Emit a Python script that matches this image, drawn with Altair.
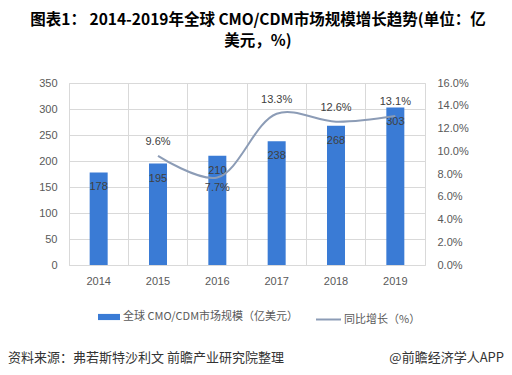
import altair as alt
import pandas as pd

years = ["2014", "2015", "2016", "2017", "2018", "2019"]
market = [178, 195, 210, 238, 268, 303]
growth = [None, 9.6, 7.7, 13.3, 12.6, 13.1]
growth_labels = ["", "9.6%", "7.7%", "13.3%", "12.6%", "13.1%"]
label_below = [False, False, True, False, False, False]
bar_series = "全球 CMO/CDM市场规模（亿美元）"
line_series = "同比增长（%）"
left_ticks = [0, 50, 100, 150, 200, 250, 300, 350]
right_ticks = [0, 2, 4, 6, 8, 10, 12, 14, 16]
title_lines = ["图表1： 2014-2019年全球 CMO/CDM市场规模增长趋势(单位：亿", "美元，%)"]
source_text = "资料来源：弗若斯特沙利文 前瞻产业研究院整理"
brand_text = "@前瞻经济学人APP"

df = pd.DataFrame({
    "year": years,
    "market": market,
    "growth": growth,
    "glabel": growth_labels,
    "below": label_below,
    "bar_series": [bar_series] * len(years),
    "line_series": [line_series] * len(years),
})

NUM = "Liberation Sans"
CJK = "Noto Sans CJK SC"
BAR = "#3a7bd5"
LINE = "#8c9cb6"
GRID = "#d9d9d9"
LBL = "#595959"

x = alt.X("year:N", title=None,
          scale=alt.Scale(paddingInner=0, paddingOuter=0),
          axis=alt.Axis(labelAngle=0, ticks=False, domain=False, grid=True,
                        bandPosition=0, gridColor=GRID, labelColor=LBL,
                        labelFont=NUM, labelFontSize=11, labelPadding=10))

y_left = alt.Y("market:Q", title=None,
               scale=alt.Scale(domain=[0, 350], nice=False),
               axis=alt.Axis(values=left_ticks, ticks=False, domain=False, grid=True,
                             gridColor=GRID, labelColor=LBL, labelFont=NUM,
                             labelFontSize=11, labelPadding=12))

y_right = alt.Y("growth:Q", title=None,
                scale=alt.Scale(domain=[0, 16], nice=False),
                axis=alt.Axis(orient="right", values=right_ticks, ticks=False,
                              domain=False, grid=False, labelColor=LBL, labelFont=NUM,
                              labelFontSize=11, labelPadding=12,
                              labelExpr="format(datum.value, '.1f') + '%'"))

base = alt.Chart(df)

bars = base.mark_bar(size=18).encode(
    x=x, y=y_left,
    color=alt.Color("bar_series:N", scale=alt.Scale(range=[BAR]),
                    legend=alt.Legend(title=None, orient="none", legendX=29, legendY=223,
                                      symbolType="M-1,-0.28H1V0.28H-1Z", symbolSize=484,
                                      symbolStrokeWidth=0, labelFont=CJK, labelFontSize=11,
                                      labelColor=LBL, labelOffset=3, labelLimit=400)),
)
bar_text = base.mark_text(baseline="middle", dy=15, font=NUM, fontSize=11,
                          color="#404040").encode(x=x, y=y_left, text="market:Q")

line = base.mark_line(interpolate="catmull-rom", strokeWidth=2).encode(
    x=x, y=y_right,
    stroke=alt.Stroke("line_series:N", scale=alt.Scale(range=[LINE]),
                      legend=alt.Legend(title=None, orient="none", legendX=246, legendY=223,
                                        symbolType="stroke", symbolSize=625,
                                        symbolStrokeWidth=2, labelFont=CJK, labelFontSize=11,
                                        labelColor=LBL, labelOffset=2, labelLimit=400)),
)
above = base.transform_filter("datum.growth != null && !datum.below").mark_text(
    dy=-14, font=NUM, fontSize=11, color="#404040").encode(x=x, y=y_right, text="glabel:N")
below = base.transform_filter("datum.growth != null && datum.below").mark_text(
    dy=11, font=NUM, fontSize=11, color="#404040").encode(x=x, y=y_right, text="glabel:N")

left = alt.layer(bars, bar_text)
right = alt.layer(line, above, below)

foot = pd.DataFrame({"t": [source_text]})
brand = pd.DataFrame({"t": [brand_text]})
source_mark = alt.Chart(foot).mark_text(align="left", baseline="middle", font=CJK,
                                         fontSize=13, color="#333333").encode(
    x=alt.value(-61), y=alt.value(275), text="t:N")
brand_mark = alt.Chart(brand).mark_text(align="right", baseline="middle", font=CJK,
                                        fontSize=13, color="#333333").encode(
    x=alt.value(435), y=alt.value(275), text="t:N")

chart = alt.layer(left, right, source_mark, brand_mark).resolve_scale(
    y="independent", color="independent", stroke="independent"
).properties(
    width=356, height=182,
    autosize=alt.AutoSizeParams(type="none"),
    padding={"left": 61, "top": 75, "right": 79, "bottom": 100},
    title=alt.TitleParams(text=title_lines, anchor="middle", dx=11, fontSize=15.5,
                          font=CJK, fontWeight="bold", color="#000000",
                          lineHeight=21, offset=28),
).configure_view(stroke=GRID)

chart.save("out.html", embed_options={"renderer": "svg", "actions": False})
